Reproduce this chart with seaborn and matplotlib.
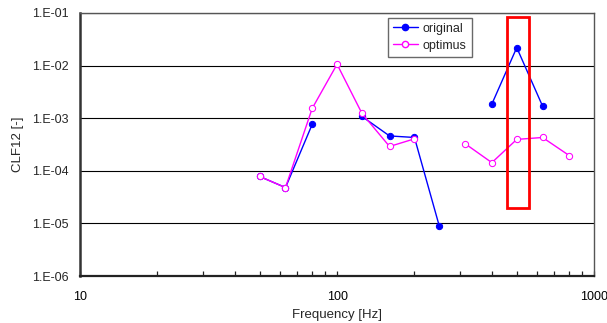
import numpy as np
import pandas as pd
import matplotlib
matplotlib.use("Agg")
import matplotlib.pyplot as plt
from matplotlib.lines import Line2D
from matplotlib.patches import Rectangle
from matplotlib.ticker import FuncFormatter, LogLocator, NullFormatter
import seaborn as sns

# 1/3 octave band centre frequencies [Hz]
freq = [50, 63, 80, 100, 125, 160, 200, 250, 315, 400, 500, 630, 800]
# CLF12 values (NaN = no point, line broken)
original = [7.8e-5, 4.8e-5, 7.6e-4, np.nan, 1.08e-3, 4.6e-4, 4.3e-4, 8.8e-6,
            np.nan, 1.85e-3, 2.2e-2, 1.7e-3, np.nan]
optimus = [7.8e-5, 4.8e-5, 1.53e-3, 1.06e-2, 1.23e-3, 2.9e-4, 4.05e-4, np.nan,
           3.27e-4, 1.43e-4, 3.95e-4, 4.3e-4, 1.95e-4]

# highlighted band (red box)
box_f = (457, 558)
box_clf = (2.0e-5, 8.5e-2)


def to_segments(x, y):
    """split series at NaN so lines are not joined across gaps"""
    df = pd.DataFrame({"freq": x, "clf": y})
    df["seg"] = df["clf"].isna().cumsum()
    return df.dropna()


sns.set_style("white")
plt.rcParams["font.family"] = ["Liberation Sans", "DejaVu Sans"]

fig = plt.figure(figsize=(6.07, 3.23), dpi=100)
ax = fig.add_axes([0.1318, 0.1455, 0.847, 0.8143])

df_orig = to_segments(freq, original)
df_opt = to_segments(freq, optimus)

sns.lineplot(data=df_orig, x="freq", y="clf", units="seg", estimator=None,
             color="#0000ff", marker="o", markersize=4.5, linewidth=1,
             markeredgecolor="#0000ff", markerfacecolor="#0000ff", ax=ax)
sns.lineplot(data=df_opt, x="freq", y="clf", units="seg", estimator=None,
             color="#ff00ff", marker="o", markersize=4.5, linewidth=1,
             markeredgecolor="#ff00ff", markerfacecolor="white", ax=ax)

ax.set_xscale("log")
ax.set_yscale("log")
ax.set_xlim(10, 1000)
ax.set_ylim(1e-6, 1e-1)

ax.add_patch(Rectangle((box_f[0], box_clf[0]), box_f[1] - box_f[0],
                       box_clf[1] - box_clf[0], fill=False,
                       edgecolor="#ff0000", linewidth=2, zorder=5))

# grid and ticks
ax.yaxis.grid(True, which="major", color="black", linewidth=0.8)
ax.xaxis.grid(False)
ax.yaxis.set_major_formatter(FuncFormatter(lambda v, p: "1.E-%02d" % round(-np.log10(v))))
ax.xaxis.set_major_formatter(FuncFormatter(lambda v, p: "%d" % round(v)))
ax.xaxis.set_minor_locator(LogLocator(base=10, subs=np.arange(2, 10)))
ax.xaxis.set_minor_formatter(NullFormatter())
ax.yaxis.set_minor_locator(LogLocator(base=10, subs=[]))
ax.tick_params(axis="x", which="both", bottom=True, direction="in", length=3.5,
               width=0.9, colors="#222222", labelcolor="black",
               labelsize=9, pad=11)
ax.tick_params(axis="y", which="both", left=False, length=0, labelsize=9, pad=8)
for s in ax.spines.values():
    s.set_color("#555555")
    s.set_linewidth(1.0)
ax.spines["left"].set_color("#333333")
ax.spines["left"].set_linewidth(1.8)
ax.spines["bottom"].set_color("#222222")
ax.spines["bottom"].set_linewidth(1.6)

ax.set_xlabel("Frequency [Hz]", fontsize=9.5, labelpad=4)
ax.set_ylabel("CLF12 [-]", fontsize=9.5, labelpad=6)

handles = [
    Line2D([], [], color="#0000ff", marker="o", markersize=4.5, linewidth=1,
           markerfacecolor="#0000ff", label="original"),
    Line2D([], [], color="#ff00ff", marker="o", markersize=4.5, linewidth=1,
           markerfacecolor="white", label="optimus"),
]
leg = ax.legend(handles=handles, loc="upper left", bbox_to_anchor=(0.599, 0.982),
                borderaxespad=0, frameon=True, fancybox=False, fontsize=9,
                handlelength=2.0, handletextpad=0.4, borderpad=0.4,
                labelspacing=0.4)
leg.get_frame().set_edgecolor("#444444")
leg.get_frame().set_linewidth(1.0)

fig.savefig("out.png", dpi=100)
